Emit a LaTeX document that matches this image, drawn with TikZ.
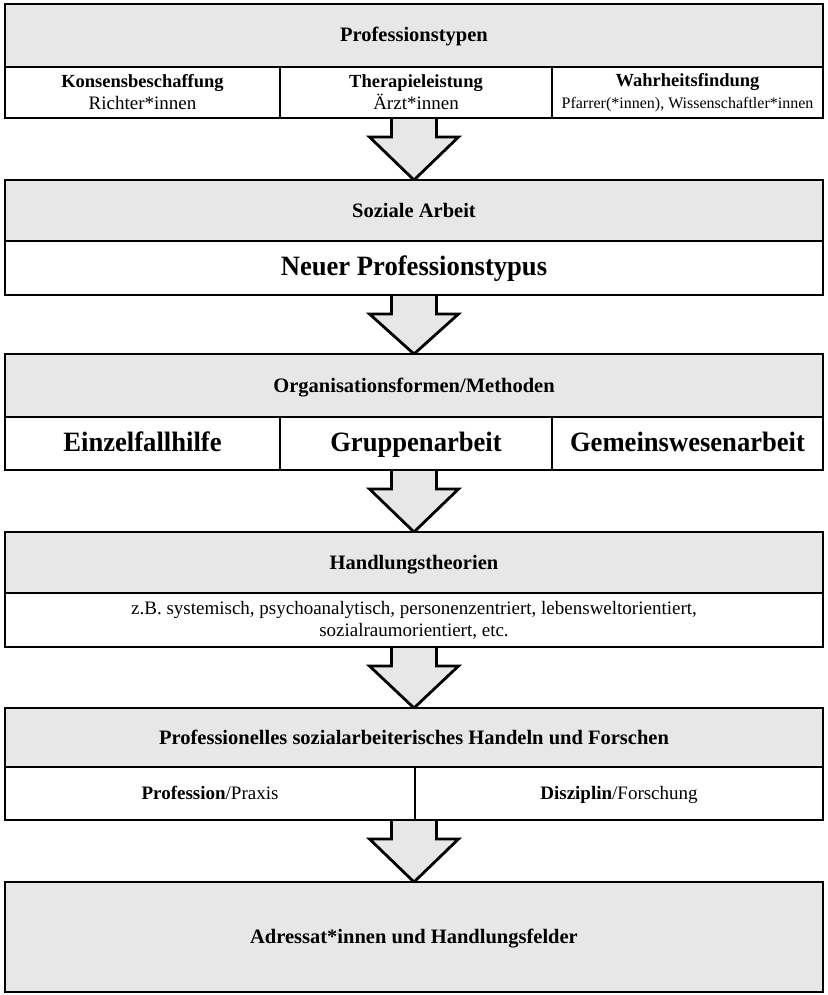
\documentclass[tikz,border=0pt]{standalone}
\usepackage{fontspec}
\setmainfont{Liberation Serif}
\newfontfamily\bigfont[FakeStretch=0.95]{Liberation Serif}
\usetikzlibrary{calc,backgrounds}

\definecolor{HeadColor}{RGB}{231,231,231}

\tikzset{
	head/.style={draw, fill=HeadColor, line width=2.8pt, anchor=north west, minimum width=818pt, inner sep=0pt, outer sep=0pt, text height=14pt, text depth=1pt, font=\fontsize{20.5}{24}\selectfont\bfseries},
	cell/.style={draw, fill=white, line width=2.8pt, anchor=north west, inner sep=0pt, outer sep=0pt, align=center, font=\fontsize{19}{22}\selectfont},
	oneline/.style={text height=13.5pt, text depth=2.5pt},
	big/.style={text height=19pt, text depth=4pt, font=\bigfont\fontsize{28}{32}\selectfont\bfseries},
	flow/.style={draw, fill=HeadColor, line width=2.8pt, line join=miter},
}

% block arrow from the bottom of #1 down to the top of #2
\newcommand{\flowarrow}[2]{%
	\draw[flow] let \p1=(#1.south), \p2=(#2.north) in
		(\x2-22.5pt,\y1) -- (\x2-22.5pt,\y1-19pt) -- (\x2-44.5pt,\y1-19pt) -- (\x2,\y2)
		-- (\x2+44.5pt,\y1-19pt) -- (\x2+22.5pt,\y1-19pt) -- (\x2+22.5pt,\y1);}

\begin{document}
\begin{tikzpicture}[x=1pt,y=-1pt]
	\useasboundingbox (0,0) rectangle (827,995);
	% Professionstypen
	\node[head, minimum height=63pt] (pt) at (5,4) {Professionstypen};
	\node[cell, minimum width=275pt, minimum height=51pt] (kb) at (5,67) {{\bfseries\fontsize{18.5}{22}\selectfont Konsensbeschaffung}\\Richter*innen};
	\node[cell, minimum width=272pt, minimum height=51pt] (tl) at (280,67) {{\bfseries\fontsize{18.5}{22}\selectfont Therapieleistung}\\Ärzt*innen};
	\node[cell, minimum width=271pt, minimum height=51pt] (wf) at (552,67) {{\bfseries\fontsize{18.5}{22}\selectfont Wahrheitsfindung}\\{\fontsize{16}{23}\selectfont Pfarrer(*innen), Wissenschaftler*innen}};
	% Soziale Arbeit
	\node[head, minimum height=61pt] (sa) at (5,180) {Soziale Arbeit};
	\node[cell, big, minimum width=818pt, minimum height=54pt] (np) at (5,241) {Neuer Professionstypus};
	% Organisationsformen
	\node[head, minimum height=63pt] (om) at (5,354) {Organisationsformen/Methoden};
	\node[cell, big, minimum width=275pt, minimum height=53pt] (ez) at (5,417) {Einzelfallhilfe};
	\node[cell, big, minimum width=272pt, minimum height=53pt] (ga) at (280,417) {Gruppenarbeit};
	\node[cell, big, minimum width=271pt, minimum height=53pt] (gw) at (552,417) {Gemeinswesenarbeit};
	% Handlungstheorien
	\node[head, minimum height=61pt] (ht) at (5,532) {Handlungstheorien};
	\node[cell, minimum width=818pt, minimum height=54pt] (bsp) at (5,593) {z.B. systemisch, psychoanalytisch, personenzentriert, lebensweltorientiert,\\sozialraumorientiert, etc.};
	% Handeln und Forschen
	\node[head, minimum height=59pt] (hf) at (5,708) {Professionelles sozialarbeiterisches Handeln und Forschen};
	\node[cell, oneline, minimum width=410pt, minimum height=53pt] (pp) at (5,767) {\textbf{Profession}/Praxis};
	\node[cell, oneline, minimum width=408pt, minimum height=53pt] (df) at (415,767) {\textbf{Disziplin}/Forschung};
	% Adressat*innen
	\node[head, minimum height=110pt] (ad) at (5,882) {Adressat*innen und Handlungsfelder};

	\begin{pgfonlayer}{background}
		\flowarrow{tl}{sa}
		\flowarrow{np}{om}
		\flowarrow{ga}{ht}
		\flowarrow{bsp}{hf}
		\flowarrow{pp}{ad}
	\end{pgfonlayer}
\end{tikzpicture}
\end{document}
